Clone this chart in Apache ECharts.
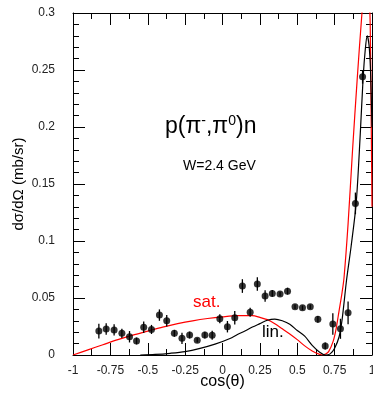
<!DOCTYPE html>
<html><head><meta charset="utf-8">
<script src="https://cdn.jsdelivr.net/npm/echarts@6/dist/echarts.min.js"></script>
<style>html,body{margin:0;padding:0;background:#fff;overflow:hidden;width:373px;height:393px}#c{position:absolute;left:0;top:0;width:373px;height:393px}</style>
</head><body><div id="c"></div>
<script>
// Measured data points: cos(theta), dsigma/dOmega, error
var dataCos = [-0.827,-0.778,-0.725,-0.673,-0.622,-0.575,-0.527,-0.475,-0.422,-0.373,-0.322,-0.271,-0.220,-0.169,-0.118,-0.069,-0.018,0.033,0.082,0.133,0.185,0.233,0.285,0.333,0.385,0.435,0.485,0.535,0.587,0.638,0.687,0.738,0.789,0.840,0.889,0.937];
var dataVal = [0.021,0.0228,0.022,0.019,0.016,0.0123,0.0243,0.0224,0.035,0.030,0.019,0.0146,0.0175,0.013,0.0175,0.0173,0.0318,0.0248,0.0327,0.0605,0.0375,0.0623,0.0518,0.054,0.0535,0.056,0.0424,0.0414,0.0424,0.0313,0.0079,0.0272,0.023,0.037,0.133,0.244];
var dataErr = [0.0065,0.005,0.005,0.004,0.005,0.003,0.005,0.004,0.005,0.005,0.003,0.005,0.003,0.002,0.003,0.004,0.004,0.005,0.006,0.006,0.004,0.006,0.005,0.003,0.002,0.003,0.002,0.002,0.002,0.003,0.003,0.0095,0.0088,0.01,0.0095,0.006];

// "sat." model curve (red)
var satCos = [-1,-0.9,-0.8,-0.7,-0.6,-0.5,-0.4,-0.3,-0.2,-0.1,0,0.1,0.2,0.25,0.3,0.35,0.4,0.45,0.5,0.55,0.6,0.65,0.67,0.69,0.71,0.74,0.76,0.78,0.80,0.813,0.84,0.87,0.90,0.93,0.95,0.965,0.978,0.988,0.995,1.0];
var satVal = [0,0.0045,0.009,0.0135,0.0175,0.021,0.0245,0.0275,0.030,0.032,0.0335,0.0345,0.0345,0.033,0.031,0.0275,0.023,0.0185,0.0135,0.008,0.0035,0.0005,0,0.0008,0.003,0.012,0.023,0.039,0.055,0.068,0.115,0.18,0.24,0.295,0.325,0.335,0.32,0.29,0.2,0.13];

// "lin." model curve (black)
var linCos = [-0.55,-0.45,-0.35,-0.25,-0.15,-0.05,0.05,0.1,0.15,0.2,0.25,0.3,0.35,0.4,0.45,0.5,0.55,0.6,0.65,0.69,0.72,0.75,0.78,0.80,0.83,0.86,0.894,0.92,0.941,0.955,0.968,0.98,0.99,1.0];
var linVal = [0,0.0005,0.0015,0.003,0.0058,0.0095,0.0145,0.018,0.021,0.0245,0.0275,0.0305,0.0315,0.030,0.027,0.0215,0.0165,0.0085,0.0025,0,0.001,0.006,0.016,0.031,0.066,0.095,0.133,0.19,0.244,0.268,0.28,0.272,0.25,0.2];

var xTicks = [-1,-0.75,-0.5,-0.25,0,0.25,0.5,0.75,1];
var yTicks = [0,0.05,0.1,0.15,0.2,0.25,0.3];

function zip(a,b){return a.map(function(v,i){return [v,b[i]];});}
var font = 'Liberation Sans, Arial, sans-serif';
var axisCommon = {
  type:'value', axisLine:{show:true,onZero:false,lineStyle:{color:'#000',width:1}},
  axisTick:{show:true,inside:true,length:12,lineStyle:{color:'#000'}},
  minorTick:{show:true,length:6,lineStyle:{color:'#000'}},
  splitLine:{show:false}
};
function ax(o){return Object.assign({},JSON.parse(JSON.stringify(axisCommon)),o);}

var chart = echarts.init(document.getElementById('c'),null,{renderer:'canvas',width:373,height:393});
chart.setOption({
  animation:false,
  backgroundColor:'#fff',
  grid:{left:73,right:1,top:13,bottom:38,containLabel:false,outerBoundsMode:'none'},
  xAxis:[
    ax({position:'bottom',min:xTicks[0],max:xTicks[xTicks.length-1],interval:0.25,
      minorTick:{show:true,splitNumber:2,length:6,lineStyle:{color:'#000'}},
      axisLabel:{show:true,color:'#222',fontFamily:font,fontSize:12,margin:10,showMaxLabel:true,hideOverlap:false},
      name:'cos(θ)',nameLocation:'middle',nameGap:19,nameMoveOverlap:false,nameTextStyle:{color:'#000',fontFamily:font,fontSize:16}}),
    ax({position:'top',min:-1,max:1,interval:0.25,
      minorTick:{show:true,splitNumber:2,length:6,lineStyle:{color:'#000'}},
      axisLabel:{show:false}})
  ],
  yAxis:[
    ax({position:'left',min:yTicks[0],max:yTicks[yTicks.length-1],interval:0.05,
      minorTick:{show:true,splitNumber:5,length:6,lineStyle:{color:'#000'}},
      axisLabel:{show:true,color:'#222',fontFamily:font,fontSize:12,margin:18},
      name:'dσ/dΩ (mb/sr)',nameLocation:'middle',nameGap:47,nameMoveOverlap:false,nameRotate:90,nameTextStyle:{color:'#000',fontFamily:font,fontSize:15}}),
    ax({position:'right',min:0,max:0.3,interval:0.05,
      minorTick:{show:true,splitNumber:5,length:6,lineStyle:{color:'#000'}},
      axisLabel:{show:false}})
  ],
  series:[
    {type:'line',name:'sat.',data:zip(satCos,satVal),showSymbol:false,smooth:0.3,clip:true,
      lineStyle:{color:'#ff0000',width:1.2},z:3},
    {type:'line',name:'lin.',data:zip(linCos,linVal),showSymbol:false,smooth:0.3,clip:true,
      lineStyle:{color:'#000',width:1.2},z:3},
    {type:'custom',name:'err',data:dataCos.map(function(c,i){return [c,dataVal[i]-dataErr[i],dataVal[i]+dataErr[i]];}),
      renderItem:function(params,api){
        var lo=api.coord([api.value(0),api.value(1)]);
        var hi=api.coord([api.value(0),api.value(2)]);
        return {type:'line',shape:{x1:lo[0],y1:lo[1],x2:hi[0],y2:hi[1]},style:{stroke:'#000',lineWidth:1.3}};
      },z:4},
    {type:'scatter',name:'data',data:zip(dataCos,dataVal),symbol:'circle',symbolSize:7,
      itemStyle:{color:'#000'},z:5}
  ],
  graphic:[
    {type:'text',left:165,top:114,style:{
      text:'p(π{sup|-},π{sup|0})n',fontFamily:font,fontSize:23,fill:'#000',
      rich:{sup:{fontSize:14,fontFamily:font,fill:'#000',verticalAlign:'top',padding:[0,0,11,0]}}}},
    {type:'text',left:183,top:159,style:{text:'W=2.4 GeV',fontFamily:font,fontSize:14,fill:'#000'}},
    {type:'text',left:193,top:294,style:{text:'sat.',fontFamily:font,fontSize:17,fill:'#ff0000'}},
    {type:'text',left:262,top:324,style:{text:'lin.',fontFamily:font,fontSize:17,fill:'#000'}}
  ]
});
</script></body></html>
